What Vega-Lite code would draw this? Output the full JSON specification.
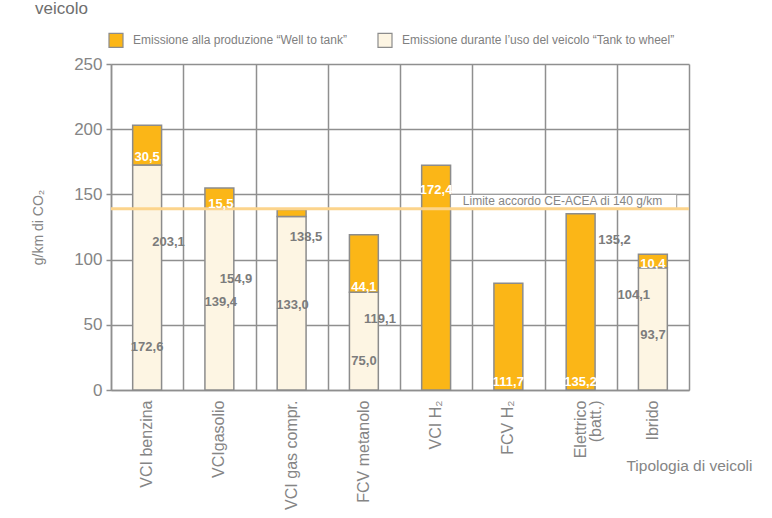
{
  "$schema": "https://vega.github.io/schema/vega-lite/v6.json",
  "width": 578,
  "height": 326,
  "autosize": {"type": "none"},
  "padding": {"left": 111, "top": 64, "right": 83, "bottom": 128},
  "background": "white",
  "title": {"text": "veicolo", "anchor": "start", "frame": "group", "dx": -76, "offset": 14, "fontSize": 17, "fontWeight": "normal", "color": "#6e6e6e", "font": "Liberation Sans"},
  "config": {
    "view": {"stroke": null},
    "font": "Liberation Sans",
    "axis": {"labelColor": "#858585", "titleColor": "#858585", "labelFont": "Liberation Sans", "titleFont": "Liberation Sans", "titleFontWeight": "normal", "gridColor": "#8f8f8f", "gridWidth": 1.5, "domainColor": "#8f8f8f", "domainWidth": 1.5, "tickColor": "#8f8f8f", "tickWidth": 1.5}
  },
  "datasets": {
    "emissioni": [
      {"veicolo": "VCI benzina", "tipo": "Emissione durante l’uso del veicolo “Tank to wheel”", "g_km": 172.6},
      {"veicolo": "VCI benzina", "tipo": "Emissione alla produzione “Well to tank”", "g_km": 30.5},
      {"veicolo": "VCIgasolio", "tipo": "Emissione durante l’uso del veicolo “Tank to wheel”", "g_km": 139.4},
      {"veicolo": "VCIgasolio", "tipo": "Emissione alla produzione “Well to tank”", "g_km": 15.5},
      {"veicolo": "VCI gas compr.", "tipo": "Emissione durante l’uso del veicolo “Tank to wheel”", "g_km": 133.0},
      {"veicolo": "VCI gas compr.", "tipo": "Emissione alla produzione “Well to tank”", "g_km": 5.5},
      {"veicolo": "FCV metanolo", "tipo": "Emissione durante l’uso del veicolo “Tank to wheel”", "g_km": 75.0},
      {"veicolo": "FCV metanolo", "tipo": "Emissione alla produzione “Well to tank”", "g_km": 44.1},
      {"veicolo": "VCI H₂", "tipo": "Emissione alla produzione “Well to tank”", "g_km": 172.4},
      {"veicolo": "FCV H₂", "tipo": "Emissione alla produzione “Well to tank”", "g_km": 81.8},
      {"veicolo": "Elettrico (batt.)", "tipo": "Emissione alla produzione “Well to tank”", "g_km": 135.2},
      {"veicolo": "Ibrido", "tipo": "Emissione durante l’uso del veicolo “Tank to wheel”", "g_km": 93.7},
      {"veicolo": "Ibrido", "tipo": "Emissione alla produzione “Well to tank”", "g_km": 10.4}
    ],
    "etichette_wtt": [
      {"testo": "30,5", "pos_x": 0.5, "pos_y": 178.7},
      {"testo": "15,5", "pos_x": 1.52, "pos_y": 142.6},
      {"testo": "44,1", "pos_x": 3.5, "pos_y": 79},
      {"testo": "172,4", "pos_x": 4.5, "pos_y": 153.4},
      {"testo": "111,7", "pos_x": 5.5, "pos_y": 6.1},
      {"testo": "135,2", "pos_x": 6.5, "pos_y": 6.1},
      {"testo": "10,4", "pos_x": 7.5, "pos_y": 96.6}
    ],
    "etichette_altre": [
      {"testo": "172,6", "pos_x": 0.5, "pos_y": 33.2},
      {"testo": "203,1", "pos_x": 0.796, "pos_y": 113.7},
      {"testo": "154,9", "pos_x": 1.73, "pos_y": 85},
      {"testo": "139,4", "pos_x": 1.52, "pos_y": 67.7},
      {"testo": "138,5", "pos_x": 2.699, "pos_y": 117},
      {"testo": "133,0", "pos_x": 2.512, "pos_y": 65.2},
      {"testo": "119,1", "pos_x": 3.723, "pos_y": 54.2},
      {"testo": "75,0", "pos_x": 3.502, "pos_y": 22.2},
      {"testo": "135,2", "pos_x": 6.969, "pos_y": 115},
      {"testo": "104,1", "pos_x": 7.235, "pos_y": 72.9},
      {"testo": "93,7", "pos_x": 7.502, "pos_y": 42.2}
    ]
  },
  "layer": [
    {
      "data": {"name": "emissioni"},
      "mark": {"type": "bar", "width": {"band": 0.4}, "stroke": "#8c8c8c", "strokeWidth": 1.5},
      "encoding": {
        "x": {"field": "veicolo", "type": "nominal", "sort": null,
              "scale": {"paddingInner": 0, "paddingOuter": 0},
              "axis": {"title": "Tipologia di veicoli", "titleFontSize": 15.5, "titleX": 641, "titleY": 75, "titleAlign": "right", "titleBaseline": "middle", "titleAngle": 0,
                       "labelAngle": -90, "labelAlign": "right", "labelBaseline": "middle", "labelFontSize": 16, "labelPadding": 10, "labelLineHeight": 15,
                       "labelExpr": "datum.label == 'Elettrico (batt.)' ? ['Elettrico', '(batt.)'] : datum.label",
                       "ticks": false, "grid": false, "domain": true}},
        "y": {"field": "g_km", "type": "quantitative", "stack": "zero",
              "scale": {"domain": [0, 250], "nice": false},
              "axis": {"title": "g/km di CO₂", "titleFontSize": 14, "titlePadding": 28, "values": [0, 50, 100, 150, 200, 250], "labelFontSize": 17, "labelPadding": 4, "tickSize": 5, "grid": true}},
        "color": {"field": "tipo", "type": "nominal",
                  "scale": {"domain": ["Emissione alla produzione “Well to tank”", "Emissione durante l’uso del veicolo “Tank to wheel”"], "range": ["#FBB617", "#FDF5E3"]},
                  "legend": {"title": null, "orient": "none", "legendX": -3, "legendY": -32, "direction": "horizontal", "columns": 2, "columnPadding": 28,
                             "symbolType": "square", "symbolSize": 196, "symbolStrokeColor": "#8c8c8c", "symbolStrokeWidth": 1.2, "symbolOpacity": 1,
                             "labelFont": "Liberation Sans", "labelFontSize": 12, "labelColor": "#808080", "labelOffset": 9, "labelLimit": 400}},
        "order": {"field": "tipo", "sort": "descending"}
      }
    },
    {
      "layer": [
        {
          "data": {"values": [{}]},
          "mark": {"type": "rect", "fill": "white", "stroke": "#9a9a9a", "strokeWidth": 1},
          "encoding": {
            "x": {"datum": 4.70, "type": "quantitative", "scale": {"domain": [0, 8], "nice": false, "zero": true},
                  "axis": {"orient": "top", "grid": true, "values": [0, 1, 2, 3, 4, 5, 6, 7, 8], "labels": false, "ticks": false, "domain": false, "title": null, "gridColor": "#8f8f8f", "gridWidth": 1.5}},
            "x2": {"datum": 7.83},
            "y": {"datum": 139, "type": "quantitative", "title": "g/km di CO₂"},
            "y2": {"datum": 150}
          }
        },
        {
          "data": {"values": [{}]},
          "mark": {"type": "rule", "stroke": "#FCD48C", "strokeWidth": 3},
          "encoding": {
            "y": {"datum": 139, "type": "quantitative", "title": "g/km di CO₂"}
          }
        },
        {
          "data": {"values": [{}]},
          "mark": {"type": "text", "align": "left", "baseline": "middle", "font": "Liberation Sans", "fontSize": 12, "color": "#858585"},
          "encoding": {
            "x": {"datum": 4.87, "type": "quantitative", "scale": {"domain": [0, 8], "nice": false, "zero": true},
                  "axis": {"orient": "top", "grid": true, "values": [0, 1, 2, 3, 4, 5, 6, 7, 8], "labels": false, "ticks": false, "domain": false, "title": null, "gridColor": "#8f8f8f", "gridWidth": 1.5}},
            "y": {"datum": 145.2, "type": "quantitative", "title": "g/km di CO₂"},
            "text": {"value": "Limite accordo CE-ACEA di 140 g/km"}
          }
        },
        {
          "data": {"name": "etichette_wtt"},
          "mark": {"type": "text", "align": "center", "baseline": "middle", "font": "Liberation Sans", "fontWeight": "bold", "fontSize": 13, "color": "white"},
          "encoding": {
            "x": {"field": "pos_x", "type": "quantitative", "scale": {"domain": [0, 8], "nice": false, "zero": true},
                  "axis": {"orient": "top", "grid": true, "values": [0, 1, 2, 3, 4, 5, 6, 7, 8], "labels": false, "ticks": false, "domain": false, "title": null, "gridColor": "#8f8f8f", "gridWidth": 1.5}},
            "y": {"field": "pos_y", "type": "quantitative", "title": "g/km di CO₂"},
            "text": {"field": "testo"}
          }
        },
        {
          "data": {"name": "etichette_altre"},
          "mark": {"type": "text", "align": "center", "baseline": "middle", "font": "Liberation Sans", "fontWeight": "bold", "fontSize": 13, "color": "#7c7c7c"},
          "encoding": {
            "x": {"field": "pos_x", "type": "quantitative", "scale": {"domain": [0, 8], "nice": false, "zero": true},
                  "axis": {"orient": "top", "grid": true, "values": [0, 1, 2, 3, 4, 5, 6, 7, 8], "labels": false, "ticks": false, "domain": false, "title": null, "gridColor": "#8f8f8f", "gridWidth": 1.5}},
            "y": {"field": "pos_y", "type": "quantitative", "title": "g/km di CO₂"},
            "text": {"field": "testo"}
          }
        }
      ]
    }
  ],
  "resolve": {"scale": {"x": "independent"}}
}
